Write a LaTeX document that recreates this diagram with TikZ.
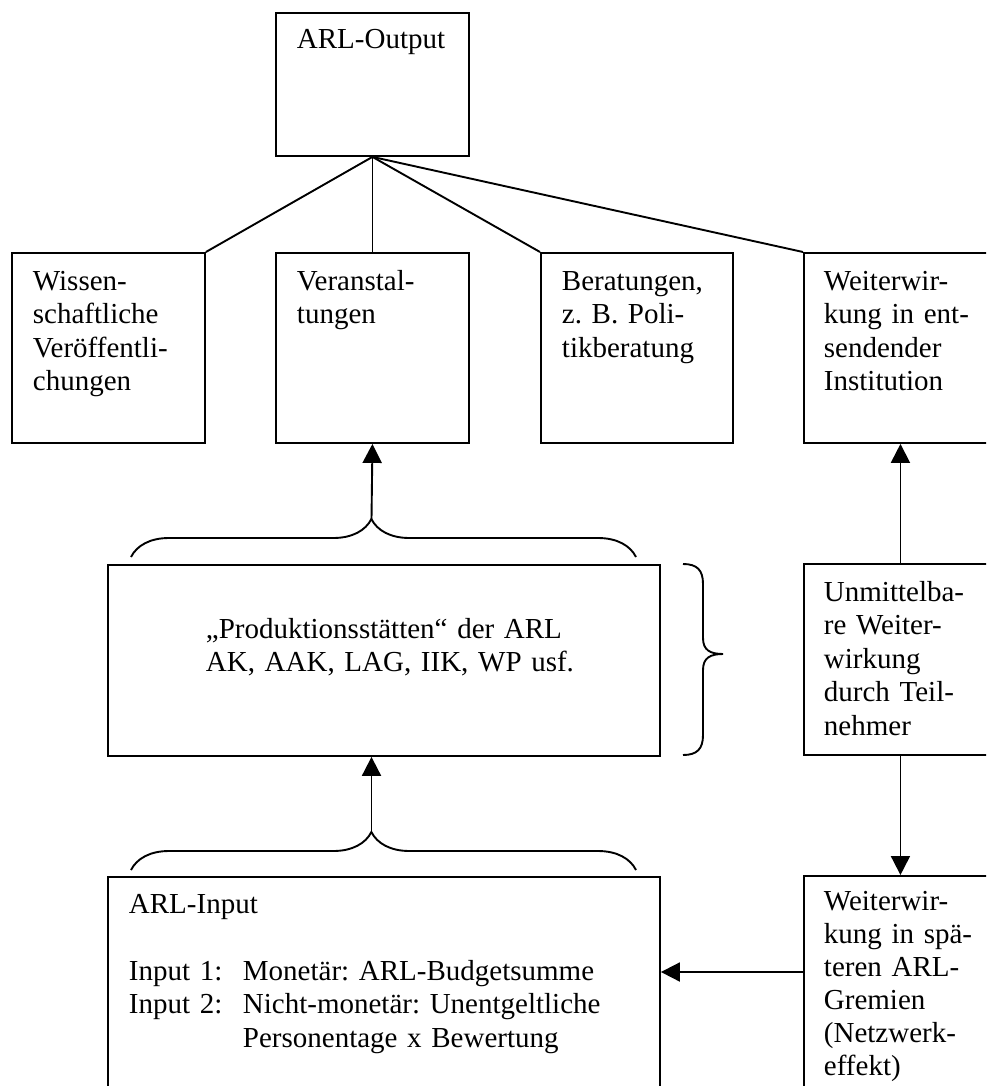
\documentclass[tikz,border=0pt]{standalone}
\usepackage{fontspec}
\setmainfont{Liberation Serif}
\usepackage{tikz}
\usetikzlibrary{arrows.meta, decorations.pathreplacing}
\frenchspacing

\begin{document}
\begin{tikzpicture}[x=1pt, y=-1pt, line width=1.9pt,
  box/.style={draw=black, anchor=north west, inner sep=0pt, minimum width=193pt, minimum height=190pt},
  txt/.style={anchor=base west, inner sep=0pt, align=left, text width=#1, font=\fontsize{29}{33.5}\selectfont},
  txt/.default=170pt,
  arr/.style={-{Triangle[length=19pt,width=19pt]}},
  curly/.style={decorate, decoration={brace, amplitude=38pt, aspect=0.476}}]

\useasboundingbox (0,0) rectangle (986,1086);
\clip (0,0) rectangle (986,1086);

\node [box, minimum height=143pt] (arl output) at (275,12) {};
\node [txt, xshift=21pt, yshift=-37pt] (arl output text) at (arl output.north west) {ARL-Output};

\node [box] (wiss) at (11,252) {};
\node [txt, xshift=21pt, yshift=-38pt] (wiss text) at (wiss.north west) {Wissen-\\schaftliche\\Veröffentli-\\chungen};
\node [box] (vera) at (275,252) {};
\node [txt, xshift=21pt, yshift=-38pt] (vera text) at (vera.north west) {Veranstal-\\tungen};
\node [box, minimum width=192pt] (bera) at (540,252) {};
\node [txt, xshift=21pt, yshift=-38pt] (bera text) at (bera.north west) {Beratungen,\\z. B. Poli-\\tikberatung};
\node [box] (weit) at (803,252) {};
\node [txt, xshift=20pt, yshift=-38pt] (weit text) at (weit.north west) {Weiterwir-\\kung in ent-\\sendender\\Institution};

\draw (arl output.south) -- (wiss.north east);
\draw (arl output.south) -- (vera.north);
\draw (arl output.south) -- (bera.north west);
\draw (arl output.south) -- (weit.north west);

\node [box, minimum width=552pt, minimum height=191pt] (prod) at (107,564) {};
\node [txt=440pt, xshift=98pt, yshift=-74pt] (prod text) at (prod.north west) {„Produktionsstätten“ der ARL\\AK, AAK, LAG, IIK, WP usf.};
\node [box, minimum height=191pt] (unm) at (803,563) {};
\node [txt, xshift=20pt, yshift=-38pt] (unm text) at (unm.north west) {Unmittelba-\\re Weiter-\\wirkung\\durch Teil-\\nehmer};

\draw [curly] (131,557) -- (636,557);
\coordinate (prod brace) at (371.5,519);
\draw [arr] (prod brace) -- (vera.south);
\draw [arr] (unm) -- (weit);

\draw (683,564) .. controls (697,564) and (703,570) .. (703,584) -- (703,638)
  .. controls (703,650) and (710,654) .. (723,654)
  .. controls (710,654) and (703,658) .. (703,670) -- (703,735)
  .. controls (703,749) and (697,755) .. (683,755);

\node [box, minimum width=552pt, minimum height=240pt] (arl input) at (107,876) {};
\node [txt=520pt, xshift=21pt, yshift=-37pt] (arl input text) at (arl input.north west) {ARL-Input\\[33.5pt]
  \makebox[114pt][l]{Input 1:}Monetär: ARL-Budgetsumme\\
  \makebox[114pt][l]{Input 2:}Nicht-monetär: Unentgeltliche\\
  \hspace*{114pt}Personentage x Bewertung};
\node [box, minimum height=240pt] (spat) at (803,875) {};
\node [txt, xshift=20pt, yshift=-35pt, font=\fontsize{29}{33}\selectfont] (spat text) at (spat.north west) {Weiterwir-\\kung in spä-\\teren ARL-\\Gremien\\(Netzwerk-\\effekt)};

\draw [curly] (131,870) -- (636,870);
\coordinate (input brace) at (371.5,832);
\draw [arr] (input brace) -- (input brace |- prod.south);
\draw [arr] (unm) -- (spat);
\draw [arr] ([yshift=-97pt]spat.north west) coordinate (netz) -- (netz -| arl input.east);
\end{tikzpicture}
\end{document}
